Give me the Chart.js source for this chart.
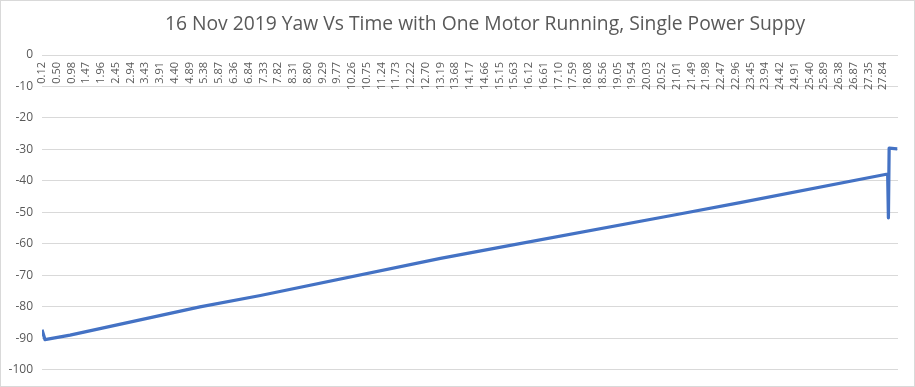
<!DOCTYPE html>
<html>
<head>
<meta charset="utf-8">
<script src="https://cdn.jsdelivr.net/npm/chart.js@4.4.1/dist/chart.umd.min.js"></script>
<style>
    html, body { margin: 0; padding: 0; background: #fff; }
    .frame {
        width: 915px;
        height: 387px;
        box-sizing: border-box;
        border: 1px solid #d9d9d9;
    }
    canvas { display: block; }
</style>
</head>
<body>
<div class="frame">
    <canvas id="graph" width="913" height="385"></canvas>
</div>
<script>
const chartTitle = '16 Nov 2019 Yaw Vs Time with One Motor Running, Single Power Suppy';

// time labels shown on the category axis (seconds)
const timeLabels = ['0.12', '0.50', '0.98', '1.47', '1.96', '2.45', '2.94', '3.43', '3.91', '4.40',
    '4.89', '5.38', '5.87', '6.36', '6.84', '7.33', '7.82', '8.31', '8.80', '9.29',
    '9.77', '10.26', '10.75', '11.24', '11.73', '12.22', '12.70', '13.19', '13.68', '14.17',
    '14.66', '15.15', '15.63', '16.12', '16.61', '17.10', '17.59', '18.08', '18.56', '19.05',
    '19.54', '20.03', '20.52', '21.01', '21.49', '21.98', '22.47', '22.96', '23.45', '23.94',
    '24.42', '24.91', '25.40', '25.89', '26.38', '26.87', '27.35', '27.84'];

// where each sample sits along the axis, counted in label steps
const samplePos = [0, 0.2, 1.9, 10.7, 14.8, 27.0, 31.0, 43.2, 47.3, 57.3, 57.35, 57.4, 57.95];
// yaw reading (degrees)
const yaw = [-87.3, -90.4, -89.0, -80.0, -76.4, -64.6, -61.1, -50.5, -46.9, -37.8, -51.7, -29.6, -29.8];

const yTicks = { min: -100, max: 0, step: 10 };

const textColor = '#595959';
const gridColor = '#d9d9d9';

const points = samplePos.map((p, i) => ({ x: p, y: yaw[i] }));

const titlePlugin = {
    id: 'excelTitle',
    afterDraw(chart) {
        const ctx = chart.ctx;
        ctx.save();
        ctx.fillStyle = textColor;
        ctx.font = '19.3px "Open Sans"';
        ctx.textAlign = 'center';
        ctx.textBaseline = 'middle';
        ctx.fillText(chartTitle, 484, 24);
        ctx.restore();
    }
};

const graph = document.getElementById('graph').getContext('2d');

new Chart(graph, {
    type: 'line',
    data: {
        datasets: [{
            label: 'Yaw',
            data: points,
            borderColor: '#4472C4',
            backgroundColor: '#4472C4',
            borderWidth: 3.25,
            borderJoinStyle: 'round',
            pointRadius: 0,
            tension: 0,
            fill: false
        }]
    },
    options: {
        responsive: false,
        animation: false,
        devicePixelRatio: 1,
        layout: {
            padding: { top: 54, bottom: 15, left: 0, right: 16 }
        },
        plugins: {
            legend: { display: false },
            title: { display: false },
            tooltip: { enabled: false }
        },
        scales: {
            x: {
                type: 'linear',
                position: { y: 0 },
                min: 0,
                max: timeLabels.length,
                afterBuildTicks: (scale) => {
                    scale.ticks = timeLabels.map((l, i) => ({ value: i }));
                },
                grid: { display: false, drawTicks: false },
                border: { display: false },
                ticks: {
                    autoSkip: false,
                    maxRotation: 90,
                    minRotation: 90,
                    padding: 7,
                    color: textColor,
                    font: { family: 'Open Sans', size: 11 },
                    callback: (value, index) => timeLabels[index]
                }
            },
            y: {
                min: yTicks.min,
                max: yTicks.max,
                afterFit: (scale) => { scale.width = 41; },
                grid: { color: gridColor, drawTicks: false },
                border: { display: false },
                ticks: {
                    stepSize: yTicks.step,
                    padding: 9,
                    color: textColor,
                    font: { family: 'Open Sans', size: 12 }
                }
            }
        }
    },
    plugins: [titlePlugin]
});
</script>
</body>
</html>
